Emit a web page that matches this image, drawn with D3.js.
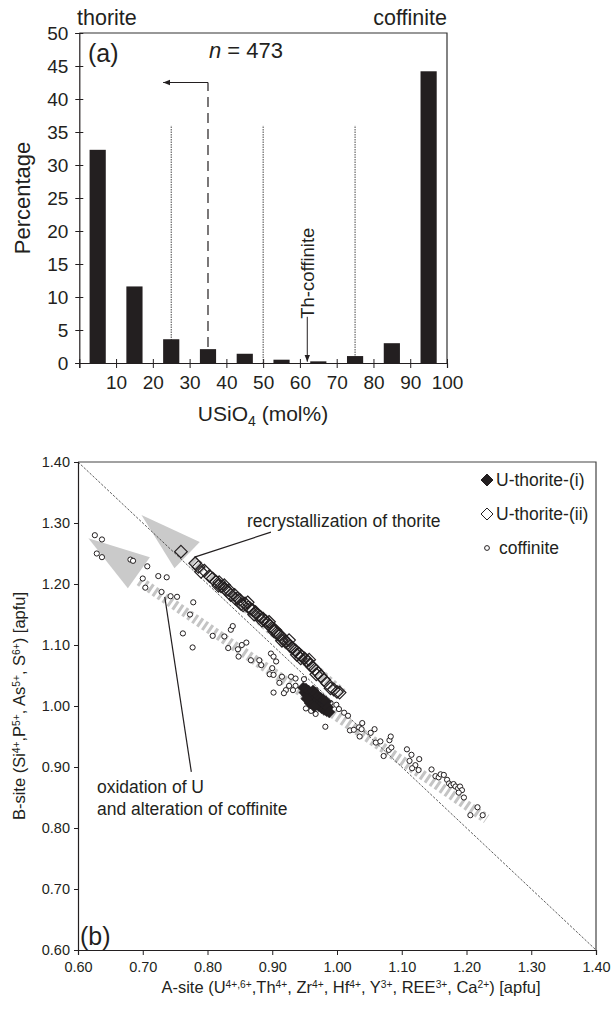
<!DOCTYPE html>
<html><head><meta charset="utf-8">
<script src="https://cdn.jsdelivr.net/npm/d3@7"></script>
<style>
body{margin:0;background:#fff}
text{font-family:"Liberation Sans",Arial,sans-serif;fill:#231f20}
</style>
</head><body>
<svg id="c" width="611" height="1010"></svg>
<script>
// ---------- Panel (a) data ----------
const binCenters = [5,15,25,35,45,55,65,75,85,95];
const binPercent = [32.3,11.6,3.6,2.1,1.4,0.5,0.25,1.05,3.0,44.2];
const xTicksA = [0,10,20,30,40,50,60,70,80,90,100];
const yTicksA = [0,5,10,15,20,25,30,35,40,45,50];
const boundaryX = [25,50,75];
const boundaryTop = 36;
const cutoffX = 35, cutoffTop = 42.5, cutoffArrowTo = 22.8;
const thCoffX = 62, thCoffFrom = 7.0, thCoffTo = 0.2;

// ---------- Panel (b) data ----------
const ticksB = [0.6,0.7,0.8,0.9,1.0,1.1,1.2,1.3,1.4];
const thorite1 = [[0.948,1.030],[0.950,1.022],[0.952,1.028],[0.954,1.018],[0.956,1.025],[0.957,1.014],[0.959,1.021],[0.960,1.010],[0.962,1.017],[0.963,1.025],[0.964,1.006],[0.966,1.013],[0.967,1.020],[0.968,1.003],[0.970,1.010],[0.971,1.016],[0.972,1.000],[0.974,1.007],[0.975,1.013],[0.976,0.997],[0.978,1.004],[0.979,1.010],[0.980,0.994],[0.982,1.001],[0.983,1.007],[0.984,0.992],[0.986,0.998],[0.958,1.005],[0.965,0.999],[0.953,1.012],[0.988,0.990]];
const thorite2 = [[0.759,1.253],[0.781,1.234],[0.786,1.228],[0.790,1.220],[0.795,1.222],[0.803,1.213],[0.808,1.209],[0.813,1.204],[0.818,1.203],[0.821,1.196],[0.826,1.193],[0.829,1.190],[0.833,1.190],[0.836,1.182],[0.842,1.182],[0.846,1.177],[0.850,1.174],[0.852,1.167],[0.858,1.168],[0.863,1.162],[0.866,1.160],[0.870,1.157],[0.874,1.154],[0.878,1.149],[0.882,1.146],[0.886,1.143],[0.890,1.139],[0.893,1.135],[0.897,1.131],[0.901,1.127],[0.905,1.124],[0.908,1.118],[0.912,1.116],[0.916,1.111],[0.920,1.106],[0.924,1.103],[0.928,1.098],[0.931,1.095],[0.936,1.091],[0.941,1.086],[0.945,1.082],[0.950,1.078],[0.954,1.074],[0.958,1.068],[0.962,1.064],[0.966,1.060],[0.971,1.054],[0.975,1.049],[0.980,1.043],[0.985,1.037],[0.990,1.029],[0.995,1.027],[1.000,1.023],[1.004,1.022],[0.938,1.084],[0.903,1.122],[0.872,1.150],[0.843,1.176],[0.817,1.197],[0.855,1.165],[0.884,1.140],[0.915,1.107],[0.944,1.078],[0.968,1.052],[0.826,1.198],[0.862,1.170],[0.895,1.138],[0.926,1.108],[0.957,1.076]];
const coffinite = [[0.626,1.280],[0.637,1.273],[0.629,1.250],[0.637,1.244],[0.681,1.240],[0.685,1.238],[0.707,1.229],[0.700,1.209],[0.704,1.194],[0.724,1.213],[0.737,1.211],[0.729,1.187],[0.743,1.180],[0.753,1.179],[0.778,1.170],[0.773,1.150],[0.762,1.119],[0.777,1.096],[0.808,1.115],[0.826,1.114],[0.836,1.125],[0.839,1.131],[0.832,1.095],[0.847,1.093],[0.853,1.100],[0.860,1.104],[0.848,1.081],[0.867,1.075],[0.880,1.075],[0.883,1.067],[0.898,1.086],[0.902,1.081],[0.906,1.073],[0.900,1.062],[0.896,1.052],[0.902,1.051],[0.915,1.048],[0.929,1.048],[0.936,1.045],[0.926,1.033],[0.936,1.033],[0.921,1.026],[0.932,1.026],[0.911,1.038],[0.949,1.044],[0.902,1.022],[0.918,1.021],[0.967,1.026],[0.952,0.996],[0.960,0.992],[0.967,0.987],[0.982,0.966],[0.990,1.005],[0.999,1.002],[1.003,0.995],[1.011,0.989],[1.017,0.984],[1.020,0.960],[1.026,0.961],[1.034,0.965],[1.039,0.972],[1.038,0.962],[1.035,0.950],[1.052,0.956],[1.058,0.962],[1.060,0.940],[1.067,0.942],[1.072,0.918],[1.081,0.944],[1.083,0.950],[1.080,0.928],[1.084,0.932],[1.108,0.929],[1.115,0.920],[1.112,0.910],[1.121,0.903],[1.127,0.913],[1.116,0.898],[1.126,0.895],[1.146,0.896],[1.152,0.885],[1.157,0.883],[1.160,0.888],[1.165,0.887],[1.170,0.879],[1.173,0.873],[1.176,0.870],[1.180,0.872],[1.183,0.868],[1.187,0.865],[1.190,0.868],[1.193,0.862],[1.188,0.858],[1.196,0.850],[1.217,0.834],[1.206,0.821],[1.225,0.821]];
const arrowHeads = [
  [[0.698,1.313],[0.788,1.269],[0.749,1.226]],
  [[0.616,1.275],[0.711,1.244],[0.677,1.193]]
];
const trendBands = [
  [[0.777,1.239],[1.008,1.021]],
  [[0.695,1.205],[1.231,0.815]]
];
const recrystLeader = [[0.898,1.285],[0.780,1.244]];
const oxidLeader = [[0.734,1.179],[0.775,0.892]];

const svg = d3.select("#c");
const ink = "#231f20";

// ================= Panel (a) =================
const xA = d3.scaleLinear().domain([0,100]).range([79.3,447]);
const yA = d3.scaleLinear().domain([0,50]).range([363,33]);
const gA = svg.append("g");

gA.append("path").attr("d",`M${xA(0)},${yA(50)}H${xA(100)}V${yA(0)}`)
  .attr("fill","none").attr("stroke","#333").attr("stroke-width",1.2);

gA.selectAll(".bd").data(boundaryX).join("line")
  .attr("x1",d=>xA(d)).attr("x2",d=>xA(d)).attr("y1",yA(0)).attr("y2",yA(boundaryTop))
  .attr("stroke","#333").attr("stroke-width",0.9).attr("stroke-dasharray","1.5,1");

svg.append("defs").append("marker").attr("id","ah").attr("viewBox","0 0 10 10")
  .attr("refX",10).attr("refY",5).attr("markerWidth",7).attr("markerHeight",7)
  .attr("markerUnits","userSpaceOnUse").attr("orient","auto")
  .append("path").attr("d","M0,1L10,5L0,9Z").attr("fill",ink);
gA.append("line").attr("x1",xA(cutoffX)).attr("x2",xA(cutoffX)).attr("y1",yA(0)).attr("y2",yA(cutoffTop))
  .attr("stroke",ink).attr("stroke-width",1.2).attr("stroke-dasharray","10,6");
gA.append("line").attr("x1",xA(cutoffX)).attr("x2",xA(cutoffArrowTo)).attr("y1",yA(cutoffTop)).attr("y2",yA(cutoffTop))
  .attr("stroke",ink).attr("stroke-width",1.1).attr("marker-end","url(#ah)");

const bw = xA(4.4)-xA(0);
gA.selectAll(".bar").data(binCenters).join("rect")
  .attr("x",(d)=>xA(d)-bw/2).attr("width",bw)
  .attr("y",(d,i)=>yA(binPercent[i])).attr("height",(d,i)=>yA(0)-yA(binPercent[i]))
  .attr("fill",ink);

gA.append("line").attr("x1",xA(thCoffX)).attr("x2",xA(thCoffX)).attr("y1",yA(thCoffFrom)).attr("y2",yA(thCoffTo))
  .attr("stroke",ink).attr("stroke-width",1).attr("marker-end","url(#ah)");
gA.append("text").attr("transform",`translate(${xA(thCoffX)+6.5},${yA(thCoffFrom)+2}) rotate(-90)`)
  .attr("font-size",18.5).text("Th-coffinite");

const axA = gA.append("g").attr("transform",`translate(0,${yA(0)})`)
  .call(d3.axisBottom(xA).tickValues(xTicksA).tickSize(5).tickPadding(8).tickFormat(d=>d===0?"":d));
axA.selectAll(".tick line").attr("y1",-4);
const ayA = gA.append("g").attr("transform",`translate(${xA(0)},0)`)
  .call(d3.axisLeft(yA).tickValues(yTicksA).tickSize(4).tickPadding(7));
ayA.selectAll(".tick line").attr("x1",4);
[axA,ayA].forEach(a=>{
  a.select(".domain").attr("stroke",ink).attr("stroke-width",1.2);
  a.selectAll(".tick line").attr("stroke",ink).attr("stroke-width",1);
  a.selectAll("text").attr("font-size",19).attr("fill",ink).style("font-family","Liberation Sans, Arial, sans-serif");
});

gA.append("text").attr("x",77).attr("y",25).attr("font-size",21.5).text("thorite");
gA.append("text").attr("x",447).attr("y",25).attr("text-anchor","end").attr("font-size",21.5).text("coffinite");
gA.append("text").attr("x",88).attr("y",62).attr("font-size",25).text("(a)");
const nt = gA.append("text").attr("x",209).attr("y",58).attr("font-size",22);
nt.append("tspan").attr("font-style","italic").text("n");
nt.append("tspan").text(" = 473");
gA.append("text").attr("transform","translate(30,198) rotate(-90)").attr("text-anchor","middle")
  .attr("font-size",22).text("Percentage");
const xt = gA.append("text").attr("x",263).attr("y",421).attr("text-anchor","middle").attr("font-size",21);
xt.append("tspan").text("USiO");
xt.append("tspan").attr("font-size",14).attr("dy",5).text("4");
xt.append("tspan").attr("dy",-5).text(" (mol%)");

// ================= Panel (b) =================
const xB = d3.scaleLinear().domain([0.6,1.4]).range([78,596]);
const yB = d3.scaleLinear().domain([0.6,1.4]).range([950,462]);
const gB = svg.append("g");
const line = d3.line().x(d=>xB(d[0])).y(d=>yB(d[1]));

gB.append("path").attr("d",`M${xB(0.6)},${yB(1.4)}H${xB(1.4)}V${yB(0.6)}`)
  .attr("fill","none").attr("stroke","#444").attr("stroke-width",1.2);

gB.selectAll(".ahd").data(arrowHeads).join("path")
  .attr("d",d=>line(d)+"Z").attr("fill","#cacaca");
gB.selectAll(".band").data(trendBands).join("path")
  .attr("d",line).attr("fill","none").attr("stroke","#c4c4c4").attr("stroke-width",10)
  .attr("stroke-dasharray","3,3");

gB.append("path").attr("d",line([[0.6,1.4],[1.4,0.6]]))
  .attr("stroke","#333").attr("stroke-width",0.8).attr("stroke-dasharray","2.5,1.5").attr("fill","none");

gB.append("path").attr("d",line(recrystLeader)).attr("stroke",ink).attr("stroke-width",1.2).attr("fill","none");
gB.append("path").attr("d",line(oxidLeader)).attr("stroke",ink).attr("stroke-width",1.2).attr("fill","none");

const dia = r => `M0,${-r}L${r},0L0,${r}L${-r},0Z`;
gB.selectAll(".t2").data(thorite2).join("path")
  .attr("transform",d=>`translate(${xB(d[0])},${yB(d[1])})`)
  .attr("d",dia(6.3)).attr("fill","none").attr("stroke",ink).attr("stroke-width",1.2);
gB.selectAll(".cf").data(coffinite).join("circle")
  .attr("cx",d=>xB(d[0])).attr("cy",d=>yB(d[1])).attr("r",2.6)
  .attr("fill","#fff").attr("stroke",ink).attr("stroke-width",1);
gB.selectAll(".t1").data(thorite1).join("path")
  .attr("transform",d=>`translate(${xB(d[0])},${yB(d[1])})`)
  .attr("d",dia(5.8)).attr("fill",ink).attr("stroke",ink).attr("stroke-width",0.5);

const fmt = d3.format(".2f");
const axB = gB.append("g").attr("transform",`translate(0,${yB(0.6)})`)
  .call(d3.axisBottom(xB).tickValues(ticksB).tickSize(5).tickPadding(7).tickFormat(fmt));
const ayB = gB.append("g").attr("transform",`translate(${xB(0.6)},0)`)
  .call(d3.axisLeft(yB).tickValues(ticksB).tickSize(4).tickPadding(4).tickFormat(fmt));
[axB,ayB].forEach(a=>{
  a.select(".domain").attr("stroke",ink).attr("stroke-width",1.2);
  a.selectAll(".tick line").attr("stroke",ink);
  a.selectAll("text").attr("font-size",14.5).attr("fill",ink).style("font-family","Liberation Sans, Arial, sans-serif");
});

const legend = [["U-thorite-(i)","fill"],["U-thorite-(ii)","open"],["coffinite","circle"]];
const lg = gB.selectAll(".lg").data(legend).join("g")
  .attr("transform",(d,i)=>`translate(487,${480+i*34})`);
lg.each(function(d){
  const g = d3.select(this);
  if(d[1]==="circle") g.append("circle").attr("r",2.4).attr("fill","#fff").attr("stroke",ink);
  else g.append("path").attr("d",dia(6)).attr("fill",d[1]==="fill"?ink:"none").attr("stroke",ink);
  g.append("text").attr("x",d[1]==="circle"?12:9).attr("y",6).attr("font-size",17.5).text(d[0]);
});

gB.append("text").attr("x",247).attr("y",527).attr("font-size",17.5).text("recrystallization of thorite");
gB.append("text").attr("x",97).attr("y",793).attr("font-size",17.5).text("oxidation of U");
gB.append("text").attr("x",97).attr("y",815).attr("font-size",17.5).text("and alteration of coffinite");
gB.append("text").attr("x",80).attr("y",945).attr("font-size",25).text("(b)");

function supText(sel, parts){
  parts.forEach(p=>{
    if(typeof p==="string") sel.append("tspan").attr("baseline-shift","0").text(p);
    else sel.append("tspan").attr("font-size","0.62em").attr("baseline-shift","super").text(p.s);
  });
}
const xtB = gB.append("text").attr("x",351).attr("y",993).attr("text-anchor","middle").attr("font-size",16.5);
supText(xtB,["A-site (U",{s:"4+,6+"},",Th",{s:"4+"},", Zr",{s:"4+"},", Hf",{s:"4+"},", Y",{s:"3+"},", REE",{s:"3+"},", Ca",{s:"2+"},") [apfu]"]);
const ytB = gB.append("text").attr("transform","translate(25,706) rotate(-90)").attr("text-anchor","middle").attr("font-size",16.5);
supText(ytB,["B-site (Si",{s:"4+"},",P",{s:"5+"},", As",{s:"5+"},", S",{s:"6+"},") [apfu]"]);
</script>
</body></html>
